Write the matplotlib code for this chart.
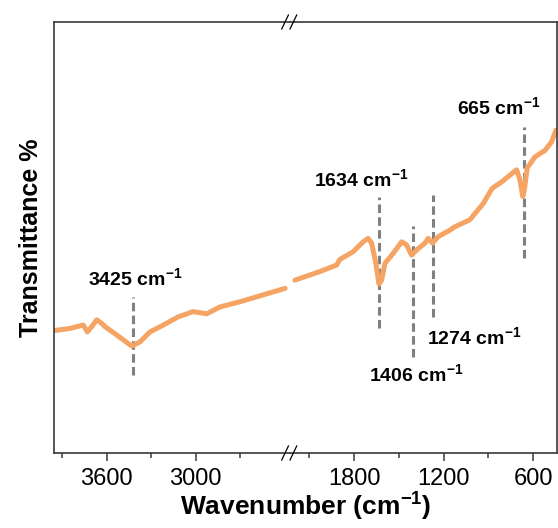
import matplotlib.pyplot as plt
import matplotlib as mpl

plt.rcParams['font.family'] = ['Liberation Sans', 'DejaVu Sans']
plt.rcParams['mathtext.fontset'] = 'custom'
plt.rcParams['mathtext.rm'] = 'Liberation Sans'
plt.rcParams['mathtext.bf'] = 'Liberation Sans:bold'

# high wavenumber segment (left of the break)
wn_hi = [3955, 3847, 3758, 3731, 3701, 3667, 3634, 3611, 3533, 3431, 3375,
         3308, 3218, 3117, 3018, 2926, 2836, 2701, 2398]
T_hi = [28.4, 28.9, 29.7, 28.1, 29.3, 30.9, 30.1, 29.3, 27.4, 24.8, 25.8,
        28.1, 29.7, 31.6, 32.8, 32.3, 33.9, 35.1, 38.2]

# low wavenumber segment (right of the break)
wn_lo = [2197, 2030, 1918, 1896, 1807, 1740, 1706, 1683, 1655, 1634, 1616,
         1594, 1539, 1482, 1449, 1415, 1382, 1326, 1304, 1275, 1237, 1159,
         1125, 1025, 935, 876, 812, 712, 690, 670, 658, 641, 589, 522, 477, 448]
T_lo = [40.1, 42.1, 43.6, 44.9, 46.7, 49.0, 49.8, 48.7, 44.0, 39.2, 40.1,
        44.0, 46.3, 49.0, 48.3, 45.9, 47.1, 48.7, 49.8, 48.7, 50.2, 51.7,
        52.5, 54.1, 57.9, 61.4, 62.9, 65.7, 63.5, 59.5, 61.5, 66.1, 68.7,
        70.2, 72.2, 74.9]

peak_labels = ['3425', '1634', '1406', '1274', '665']
peak_wn = [3425, 1634, 1406, 1274, 665]
dash_lo = [18.1, 29.0, 22.3, 31.6, 45.2]
dash_hi = [36.3, 59.5, 52.7, 59.9, 75.7]
label_x = [3406, 1755, 1384, 999, 830]
label_y = [38.7, 61.8, 16.5, 25.1, 78.4]

W, H = 558, 528
fig = plt.figure(figsize=(W / 100, H / 100), dpi=100)
left_px, brk_px, right_px = 54, 290, 556.7
top_px, bot_px = 22, 453
b = 1 - bot_px / H
h = (bot_px - top_px) / H
axL = fig.add_axes([left_px / W, b, (brk_px - left_px) / W, h])
axR = fig.add_axes([brk_px / W, b, (right_px - brk_px) / W, h])

line_c = '#F5A464'
spine_c = '#3a3a3a'
for ax, wn, T in [(axL, wn_hi, T_hi), (axR, wn_lo, T_lo)]:
    ax.plot(wn, T, color=line_c, lw=3.6, solid_capstyle='round', solid_joinstyle='round')
    ax.set_ylim(0, 100)
    ax.set_yticks([])
    for s in ax.spines.values():
        s.set_color(spine_c)
        s.set_linewidth(1.2)
    ax.tick_params(axis='x', direction='out', length=6, width=1.1, color=spine_c,
                   labelsize=17, pad=5)
    ax.tick_params(axis='x', which='minor', direction='out', length=3.5, width=1.1,
                   color=spine_c)

axL.set_xlim(3955, 2365)
axR.set_xlim(2230, 443)
axL.spines['right'].set_visible(False)
axR.spines['left'].set_visible(False)
axL.set_xticks([3600, 3000])
axL.set_xticks([3900, 3300, 2700], minor=True)
axR.set_xticks([1800, 1200, 600])
axR.set_xticks([2100, 1500, 900], minor=True)

for i, wn in enumerate(peak_wn):
    ax = axL if wn > 2300 else axR
    ax.plot([wn, wn], [dash_lo[i], dash_hi[i]], color='#808080', lw=2.2,
            ls=(0, (2.8, 1.4)), zorder=1)
    ax.text(label_x[i], label_y[i], peak_labels[i] + r' cm$^{\mathbf{-1}}$',
            fontsize=14, fontweight='bold', ha='center', va='baseline')

axL.set_ylabel('Transmittance %', fontsize=18, fontweight='bold', labelpad=8)
fig.text((left_px + right_px) / 2 / W, 0.012, r'Wavenumber (cm$^{\mathbf{-1}}$)',
         fontsize=19, fontweight='bold', ha='center', va='bottom')

# break marks
for ypx in (top_px, bot_px):
    for x0 in (281.7, 290):
        fig.add_artist(mpl.lines.Line2D([x0 / W, (x0 + 6.7) / W],
                                        [1 - (ypx + 7) / H, 1 - (ypx - 7) / H],
                                        color='black', lw=0.9))

fig.savefig('out.png', dpi=100)
